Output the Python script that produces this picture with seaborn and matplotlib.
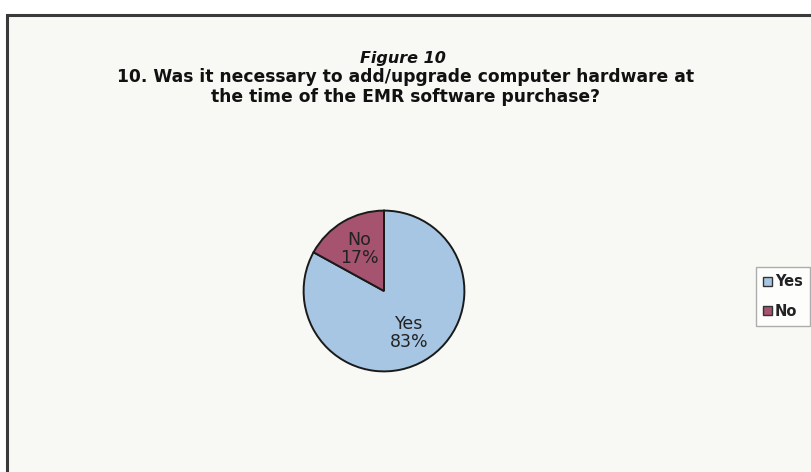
import matplotlib
matplotlib.use("Agg")
import matplotlib.pyplot as plt
from matplotlib.patches import Rectangle, Patch
import seaborn as sns

# Survey responses (percent of respondents)
categories = ["Yes", "No"]
shares = [83, 17]
fig_label = "Figure 10"
question = "10. Was it necessary to add/upgrade computer hardware at\nthe time of the EMR software purchase?"

sns.set_theme(style="white")
plt.rcParams["font.family"] = ["DejaVu Sans"]

slice_colors = ["#A6C6E4", "#A5536F"]
bg = "#F8F8F4"

W, H = 812, 472
fig = plt.figure(figsize=(W / 100, H / 100), dpi=100)
fig.patch.set_facecolor("white")

# Chart-area frame (runs off the right and bottom edges)
fig.patches.append(Rectangle((7 / W, -0.05), 1.2, (H - 15) / H + 0.05,
                             transform=fig.transFigure, facecolor=bg,
                             edgecolor="#3a3a3a", linewidth=2.2, zorder=-5))

# Titles
fig.text(403 / W, 1 - 58 / H, fig_label, ha="center", va="center",
         fontsize=11.5, fontweight="bold", fontstyle="italic", color="#111111")
fig.text(406 / W, 1 - 87 / H, question, ha="center", va="center",
         fontsize=12.3, fontweight="bold", color="#111111", linespacing=1.2)

# Pie, starting at 12 o'clock and running clockwise
cx, cy, r = 384, 291, 82
ax = fig.add_axes([(cx - r) / W, (H - cy - r) / H, 2 * r / W, 2 * r / H])
ax.set_facecolor("none")
ax.set_zorder(2)
labels = [f"{c}\n{v}%" for c, v in zip(categories, shares)]
wedges, texts = ax.pie(shares, labels=labels, colors=slice_colors,
                       startangle=90, counterclock=False, labeldistance=0.61,
                       wedgeprops=dict(edgecolor="#1a1a1a", linewidth=1.4),
                       textprops=dict(fontsize=12.5, color="#222222"))
for t in texts:
    t.set_ha("center")
    t.set_va("center")
    t.set_linespacing(1.0)
ax.set_xlim(-1.02, 1.02)
ax.set_ylim(-1.02, 1.02)
ax.set_aspect("equal")
ax.axis("off")

# Legend
handles = [Patch(facecolor=c, edgecolor="#333333", linewidth=1.0) for c in slice_colors]
leg = fig.legend(handles, categories, loc="upper left",
                 bbox_to_anchor=(756 / W, 1 - 267 / H), borderaxespad=0,
                 frameon=True, fontsize=10.5, handlelength=0.6,
                 handleheight=0.6, handletextpad=0.2, labelspacing=1.0,
                 borderpad=0.5, fancybox=False)
leg.get_frame().set_edgecolor("#9a9a9a")
leg.get_frame().set_facecolor("white")
leg.get_frame().set_linewidth(1.0)
for t in leg.get_texts():
    t.set_fontweight("bold")
    t.set_color("#222222")

fig.savefig("out.png", dpi=100, facecolor=fig.get_facecolor())
